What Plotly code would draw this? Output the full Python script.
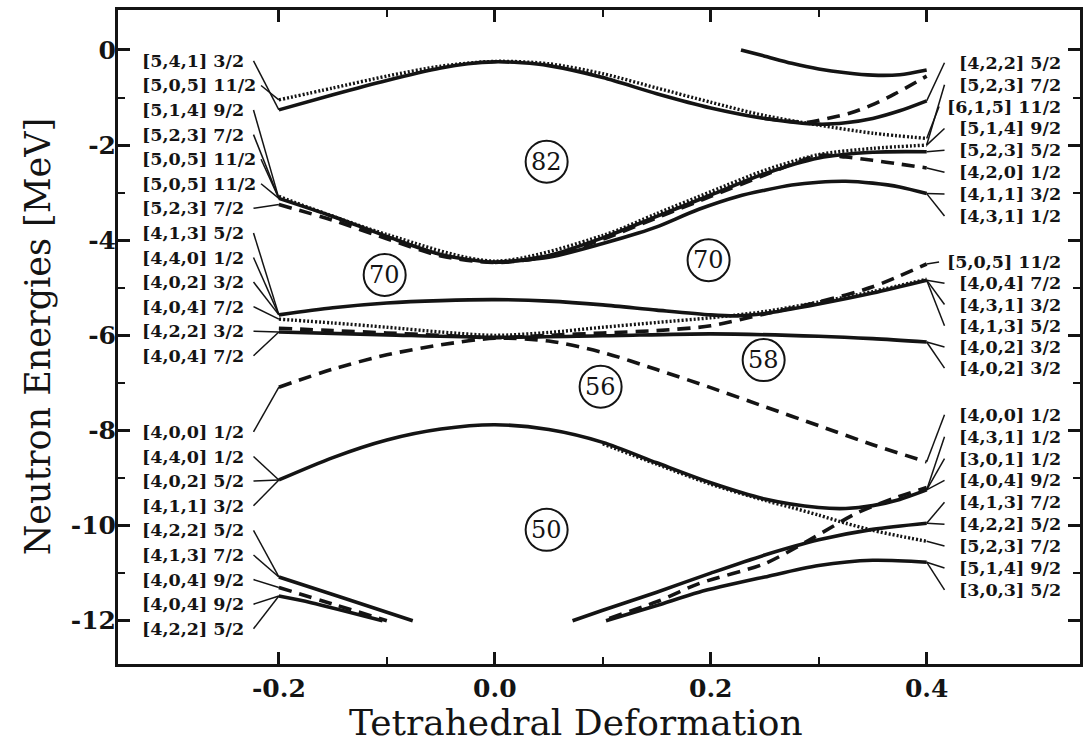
import plotly.graph_objects as go

# ---- single-particle neutron levels vs. tetrahedral deformation ----
# upper "82" band
a_solid_x = [-0.2, -0.15, -0.1, -0.05, -0.025, 0.0, 0.025, 0.05, 0.1, 0.15, 0.2, 0.25, 0.3, 0.325, 0.35, 0.375, 0.4]
a_solid_y = [-1.26, -0.94, -0.64, -0.38, -0.29, -0.25, -0.27, -0.33, -0.58, -0.92, -1.22, -1.44, -1.56, -1.53, -1.44, -1.28, -1.07]
a_dot_x = [-0.2, -0.15, -0.1, -0.05, 0.0, 0.05, 0.1, 0.15, 0.2, 0.25, 0.3, 0.35, 0.4]
a_dot_y = [-1.05, -0.80, -0.55, -0.34, -0.24, -0.29, -0.50, -0.80, -1.10, -1.38, -1.58, -1.75, -1.86]
a_dash_x = [0.25, 0.29, 0.31, 0.33, 0.35, 0.37, 0.39, 0.4]
a_dash_y = [-1.44, -1.52, -1.43, -1.32, -1.15, -0.93, -0.68, -0.55]
b_solid_x = [0.228, 0.25, 0.275, 0.3, 0.325, 0.35, 0.375, 0.4]
b_solid_y = [0.0, -0.13, -0.28, -0.40, -0.48, -0.53, -0.52, -0.42]

# band between 82 and 70
c_solid_x = [-0.2, -0.15, -0.1, -0.05, 0.0, 0.05, 0.1, 0.15, 0.2, 0.25, 0.3, 0.35, 0.4]
c_solid_y = [-3.12, -3.50, -3.92, -4.30, -4.46, -4.32, -3.95, -3.50, -3.05, -2.60, -2.27, -2.15, -2.14]
c_dot_x = [-0.2, -0.1, 0.0, 0.1, 0.15, 0.2, 0.25, 0.3, 0.35, 0.4]
c_dot_y = [-3.08, -3.88, -4.44, -3.90, -3.44, -2.98, -2.53, -2.20, -2.07, -2.00]
c_dash_x = [-0.2, -0.15, -0.1, -0.05, 0.0, 0.05, 0.1, 0.15, 0.2, 0.25, 0.3, 0.325, 0.35, 0.375, 0.4]
c_dash_y = [-3.25, -3.58, -3.97, -4.33, -4.47, -4.34, -3.98, -3.53, -3.08, -2.63, -2.22, -2.25, -2.32, -2.40, -2.48]
d_solid_x = [0.0, 0.05, 0.1, 0.133, 0.15, 0.189, 0.225, 0.25, 0.275, 0.3, 0.325, 0.35, 0.375, 0.4]
d_solid_y = [-4.47, -4.36, -4.07, -3.85, -3.72, -3.35, -3.08, -2.95, -2.84, -2.78, -2.76, -2.80, -2.88, -3.02]

# band between 70 and 58
e_solid_x = [-0.2, -0.15, -0.1, -0.05, 0.0, 0.05, 0.1, 0.15, 0.2, 0.225, 0.25, 0.3, 0.35, 0.4]
e_solid_y = [-5.57, -5.42, -5.32, -5.27, -5.25, -5.28, -5.36, -5.47, -5.57, -5.59, -5.54, -5.34, -5.11, -4.84]
f_dot_x = [-0.2, -0.15, -0.1, -0.05, 0.0, 0.05, 0.1, 0.15, 0.2, 0.25, 0.3, 0.35, 0.4]
f_dot_y = [-5.66, -5.74, -5.83, -5.93, -6.00, -5.94, -5.83, -5.73, -5.63, -5.50, -5.30, -5.08, -4.82]
g_dash_x = [-0.2, -0.15, -0.1, -0.05, 0.0, 0.05, 0.1, 0.15, 0.2, 0.25, 0.3, 0.35, 0.4]
g_dash_y = [-5.85, -5.90, -5.95, -6.00, -6.05, -6.00, -5.95, -5.90, -5.80, -5.55, -5.30, -4.98, -4.50]
f_solid_x = [-0.2, -0.1, 0.0, 0.1, 0.2, 0.3, 0.35, 0.4]
f_solid_y = [-5.93, -5.99, -6.04, -6.01, -5.97, -6.02, -6.07, -6.14]

# band between 56 and 50
h_dash_x = [-0.2, -0.15, -0.1, -0.05, 0.0, 0.05, 0.1, 0.15, 0.2, 0.25, 0.3, 0.35, 0.4]
h_dash_y = [-7.09, -6.71, -6.41, -6.20, -6.06, -6.12, -6.36, -6.72, -7.10, -7.50, -7.90, -8.30, -8.66]
i_solid_x = [-0.2, -0.15, -0.1, -0.05, 0.0, 0.05, 0.1, 0.15, 0.2, 0.25, 0.3, 0.325, 0.35, 0.375, 0.4]
i_solid_y = [-9.04, -8.57, -8.20, -7.97, -7.88, -7.98, -8.25, -8.68, -9.10, -9.44, -9.62, -9.64, -9.58, -9.45, -9.25]
n_dot_x = [0.1, 0.15, 0.2, 0.25, 0.275, 0.3, 0.325, 0.35, 0.375, 0.4]
n_dot_y = [-8.28, -8.71, -9.13, -9.47, -9.62, -9.78, -9.95, -10.10, -10.22, -10.33]

# levels below 50
j_solid_x = [-0.2, -0.143, -0.076]
j_solid_y = [-11.08, -11.50, -12.0]
k_dash_x = [-0.2, -0.15, -0.1]
k_dash_y = [-11.30, -11.65, -12.0]
k_solid_x = [-0.2, -0.17, -0.104]
k_solid_y = [-11.48, -11.62, -12.0]
l1_solid_x = [0.072, 0.1, 0.15, 0.2, 0.25, 0.3, 0.35, 0.4]
l1_solid_y = [-12.0, -11.78, -11.40, -11.00, -10.62, -10.30, -10.08, -9.95]
l2_solid_x = [0.103, 0.15, 0.189, 0.25, 0.3, 0.35, 0.4]
l2_solid_y = [-12.0, -11.68, -11.40, -11.08, -10.84, -10.73, -10.77]
l_dash_x = [0.106, 0.15, 0.189, 0.25, 0.29, 0.336, 0.373, 0.4]
l_dash_y = [-11.95, -11.60, -11.22, -10.80, -10.32, -9.73, -9.40, -9.20]

levels = {
    "a_solid": (a_solid_x, a_solid_y, "solid"),
    "a_dot": (a_dot_x, a_dot_y, "dot"),
    "a_dash": (a_dash_x, a_dash_y, "dash"),
    "b_solid": (b_solid_x, b_solid_y, "solid"),
    "c_solid": (c_solid_x, c_solid_y, "solid"),
    "c_dot": (c_dot_x, c_dot_y, "dot"),
    "c_dash": (c_dash_x, c_dash_y, "dash"),
    "d_solid": (d_solid_x, d_solid_y, "solid"),
    "e_solid": (e_solid_x, e_solid_y, "solid"),
    "f_dot": (f_dot_x, f_dot_y, "dot"),
    "g_dash": (g_dash_x, g_dash_y, "dash"),
    "f_solid": (f_solid_x, f_solid_y, "solid"),
    "h_dash": (h_dash_x, h_dash_y, "dash"),
    "i_solid": (i_solid_x, i_solid_y, "solid"),
    "n_dot": (n_dot_x, n_dot_y, "dot"),
    "j_solid": (j_solid_x, j_solid_y, "solid"),
    "k_dash": (k_dash_x, k_dash_y, "dash"),
    "k_solid": (k_solid_x, k_solid_y, "solid"),
    "l1_solid": (l1_solid_x, l1_solid_y, "solid"),
    "l2_solid": (l2_solid_x, l2_solid_y, "solid"),
    "l_dash": (l_dash_x, l_dash_y, "dash"),
}

# Nilsson labels and the level each one points to
left_upper_labels = ["[5,4,1] 3/2", "[5,0,5] 11/2", "[5,1,4] 9/2", "[5,2,3] 7/2", "[5,0,5] 11/2",
                     "[5,0,5] 11/2", "[5,2,3] 7/2", "[4,1,3] 5/2", "[4,4,0] 1/2", "[4,0,2] 3/2",
                     "[4,0,4] 7/2", "[4,2,2] 3/2", "[4,0,4] 7/2"]
left_upper_links = ["a_solid", "a_dot", "c_solid", "c_solid", "c_solid", "c_solid", "c_dash",
                    "e_solid", "e_solid", "e_solid", "f_dot", "f_solid", "f_solid"]
left_lower_labels = ["[4,0,0] 1/2", "[4,4,0] 1/2", "[4,0,2] 5/2", "[4,1,1] 3/2", "[4,2,2] 5/2",
                     "[4,1,3] 7/2", "[4,0,4] 9/2", "[4,0,4] 9/2", "[4,2,2] 5/2"]
left_lower_links = ["h_dash", "i_solid", "i_solid", "i_solid", "j_solid", "j_solid",
                    "k_dash", "k_solid", "k_solid"]
right_upper_labels = ["[4,2,2] 5/2", "[5,2,3] 7/2", "[6,1,5] 11/2", "[5,1,4] 9/2",
                      "[5,2,3] 5/2", "[4,2,0] 1/2", "[4,1,1] 3/2", "[4,3,1] 1/2"]
right_upper_links = ["a_solid", "c_dot", "a_dot", "c_dot", "c_solid", "c_dash", "d_solid", "d_solid"]
right_middle_labels = ["[5,0,5] 11/2", "[4,0,4] 7/2", "[4,3,1] 3/2", "[4,1,3] 5/2",
                       "[4,0,2] 3/2", "[4,0,2] 3/2"]
right_middle_links = ["g_dash", "e_solid", "e_solid", "e_solid", "f_solid", "f_solid"]
right_lower_labels = ["[4,0,0] 1/2", "[4,3,1] 1/2", "[3,0,1] 1/2", "[4,0,4] 9/2", "[4,1,3] 7/2",
                      "[4,2,2] 5/2", "[5,2,3] 7/2", "[5,1,4] 9/2", "[3,0,3] 5/2"]
right_lower_links = ["h_dash", "i_solid", "i_solid", "i_solid", "l1_solid", "l1_solid",
                     "n_dot", "l2_solid", "l2_solid"]

# shell-gap particle numbers
magic_text = ["82", "70", "70", "58", "56", "50"]
magic_x = [0.048, -0.102, 0.198, 0.249, 0.098, 0.048]
magic_y = [-2.35, -4.73, -4.42, -6.52, -7.08, -10.09]

x_major = [-0.2, 0.0, 0.2, 0.4]
x_major_text = ["-0.2", "0.0", "0.2", "0.4"]
x_minor = [-0.1, 0.1, 0.3]
y_major = [0, -2, -4, -6, -8, -10, -12]
y_major_text = ["0", "-2", "-4", "-6", "-8", "-10", "-12"]
y_minor = [-1, -3, -5, -7, -9, -11]

INK = "#141414"
FONT = "DejaVu Serif"
styles = {
    "solid": dict(color=INK, width=3.6),
    "dot": dict(color=INK, width=3.4, dash="2px,2px"),
    "dash": dict(color=INK, width=3.6, dash="13px,8px"),
}

fig = go.Figure()
for name, (xs, ys, kind) in levels.items():
    fig.add_trace(go.Scatter(x=xs, y=ys, mode="lines", name=name,
                             line=dict(shape="spline", smoothing=0.8, **styles[kind]),
                             hoverinfo="skip", showlegend=False))

# label rows: (first row energy, row step)
rows = {
    "left_upper": (left_upper_labels, left_upper_links, -0.23, -0.5167, "left"),
    "left_lower": (left_lower_labels, left_lower_links, -8.03, -0.5175, "left"),
    "right_upper": (right_upper_labels, right_upper_links, -0.27, -0.46, "right"),
    "right_middle": (right_middle_labels, right_middle_links, -4.46, -0.446, "right"),
    "right_lower": (right_lower_labels, right_lower_links, -7.67, -0.46, "right"),
}

label_font = dict(family=FONT, size=17.5, color=INK, weight="bold")
lead_x, lead_y = [], []
annotations = []
for labels, links, y0, dy, side in rows.values():
    for k, (txt, link) in enumerate(zip(labels, links)):
        ly = y0 + k * dy
        xs, ys, _ = levels[link]
        wide = txt.endswith("11/2")
        if side == "left":
            lead_x += [-0.2235 + (0.007 if wide else 0.0), xs[0], None]
            lead_y += [ly, ys[0], None]
            annotations.append(dict(x=-0.3285, y=ly, xref="x", yref="y", text=txt,
                                    showarrow=False, xanchor="left", yanchor="middle",
                                    font=label_font))
        else:
            lead_x += [xs[-1], 0.4165 - (0.005 if wide else 0.0), None]
            lead_y += [ys[-1], ly, None]
            annotations.append(dict(x=0.526, y=ly, xref="x", yref="y", text=txt,
                                    showarrow=False, xanchor="right", yanchor="middle",
                                    font=label_font))

fig.add_trace(go.Scatter(x=lead_x, y=lead_y, mode="lines", line=dict(color=INK, width=1.5),
                         hoverinfo="skip", showlegend=False))

shapes = []
for t, cx, cy in zip(magic_text, magic_x, magic_y):
    shapes.append(dict(type="circle", xref="x", yref="y", xsizemode="pixel", ysizemode="pixel",
                       xanchor=cx, yanchor=cy, x0=-21, x1=21, y0=-21, y1=21,
                       line=dict(color=INK, width=2)))
    annotations.append(dict(x=cx, y=cy, xref="x", yref="y", text=t, showarrow=False,
                            xanchor="center", yanchor="middle",
                            font=dict(family=FONT, size=24, color=INK)))

annotations.append(dict(x=0.4756, y=-0.0887, xref="paper", yref="paper",
                        text="Tetrahedral Deformation", showarrow=False,
                        xanchor="center", yanchor="middle",
                        font=dict(family=FONT, size=36, color=INK)))
annotations.append(dict(x=-0.0829, y=0.5, xref="paper", yref="paper",
                        text="Neutron Energies [MeV]", showarrow=False, textangle=-90,
                        xanchor="center", yanchor="middle",
                        font=dict(family=FONT, size=35, color=INK)))

axis_common = dict(showline=True, linewidth=3, linecolor=INK, mirror="ticks",
                   ticks="inside", ticklen=12, tickwidth=2.5, tickcolor=INK,
                   showgrid=False, zeroline=False,
                   tickfont=dict(family=FONT, size=25, color=INK, weight="bold"))

fig.update_layout(
    width=1083, height=751,
    margin=dict(l=118, r=0, t=10, b=87),
    paper_bgcolor="white", plot_bgcolor="white",
    xaxis=dict(range=[-0.349, 0.542], tickvals=x_major, ticktext=x_major_text,
               minor=dict(tickvals=x_minor, ticks="inside", ticklen=7, tickwidth=2, tickcolor=INK),
               **axis_common),
    yaxis=dict(range=[-12.91, 0.84], tickvals=y_major, ticktext=y_major_text,
               ticklabelstandoff=-6,
               minor=dict(tickvals=y_minor, ticks="inside", ticklen=7, tickwidth=2, tickcolor=INK),
               **axis_common),
    shapes=shapes,
    annotations=annotations,
)

fig.write_html("out.html")
